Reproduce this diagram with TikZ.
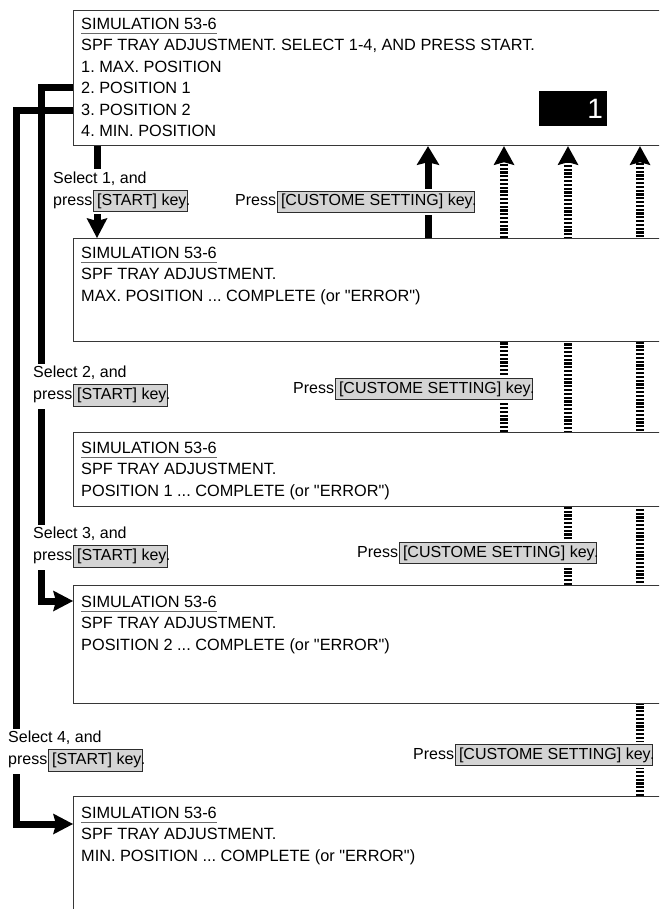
\documentclass[tikz,border=0pt]{standalone}
\usepackage{fontspec}
\setmainfont{Liberation Sans}[Ligatures=TeXOff]
\usetikzlibrary{arrows.meta}
\definecolor{ScrEdge}{RGB}{55,55,55}
\definecolor{KeyFill}{RGB}{212,212,212}
\definecolor{KeyEdge}{RGB}{45,45,45}
\definecolor{TitleLine}{RGB}{105,105,105}
\pgfdeclarelayer{back}
\pgfsetlayers{back,main}
\frenchspacing

% underlined screen heading
\newsavebox{\titlebox}
\newcommand{\scrtitle}[1]{\sbox{\titlebox}{#1}%
  \rlap{\textcolor{TitleLine}{\rule[-4.5pt]{\wd\titlebox}{1pt}}}\usebox{\titlebox}}
% grey key cap, full stop sitting on its edge
\newcommand{\keycap}[1]{\kern1pt{\setlength{\fboxsep}{3pt}\setlength{\fboxrule}{0.9pt}%
  \fcolorbox{KeyEdge}{KeyFill}{#1\kern-2pt}}\kern-2.5pt.}

\begin{document}
\begin{tikzpicture}[x=1pt, y=-1pt,
    screen/.style={draw=ScrEdge, line width=1.2pt, fill=white, anchor=north west,
                   minimum width=640pt, inner sep=0pt},
    scrtext/.style={anchor=north west, align=left, inner sep=0pt,
                    font=\fontsize{16.3pt}{21.5pt}\selectfont},
    lbl/.style={fill=white, inner sep=2pt, align=left,
                font=\fontsize{16pt}{22pt}\selectfont},
    counter/.style={fill=black, text=white, minimum width=68pt, minimum height=35pt,
                    text width=60pt, align=right, inner sep=4pt,
                    font=\fontsize{28pt}{28pt}\selectfont},
    flow/.style={line width=7pt,
                 -{Stealth[length=20pt, width=21pt, inset=3pt, line width=0pt]}},
    uparr/.style={line width=7pt,
                  -{Stealth[length=19pt, width=23pt, inset=3pt, line width=0pt]}},
    ladder/.style={line width=8pt, dash pattern=on 2.2pt off 1.6pt,
                   -{Stealth[length=19pt, width=21pt, inset=3pt, line width=0pt]}}
  ]
  \useasboundingbox (0,0) rectangle (659,909);
  \clip (0,0) rectangle (659,909);

  % screens
  \node[screen, minimum height=135pt] (s1) at (73,10)  {};
  \node[screen, minimum height=103pt] (s2) at (73,238) {};
  \node[screen, minimum height=74pt]  (s3) at (73,432) {};
  \node[screen, minimum height=118pt] (s4) at (73,585) {};
  \node[screen, minimum height=150pt] (s5) at (73,796) {};

  \node[scrtext] (t1) at (81,17.5) {\scrtitle{SIMULATION 53-6}\\
    SPF TRAY ADJUSTMENT. SELECT 1-4, AND PRESS START.\\
    1. MAX. POSITION\\2. POSITION 1\\3. POSITION 2\\4. MIN. POSITION};
  \node[counter] (cnt) at (573,108.5) {1};

  \node[scrtext] (t2) at (81,246.5) {\scrtitle{SIMULATION 53-6}\\
    SPF TRAY ADJUSTMENT.\\MAX. POSITION ... COMPLETE (or "ERROR")};
  \node[scrtext] (t3) at (81,441.5) {\scrtitle{SIMULATION 53-6}\\
    SPF TRAY ADJUSTMENT.\\POSITION 1 ... COMPLETE (or "ERROR")};
  \node[scrtext] (t4) at (81,595.5) {\scrtitle{SIMULATION 53-6}\\
    SPF TRAY ADJUSTMENT.\\POSITION 2 ... COMPLETE (or "ERROR")};
  \node[scrtext] (t5) at (81,806.5) {\scrtitle{SIMULATION 53-6}\\
    SPF TRAY ADJUSTMENT.\\MIN. POSITION ... COMPLETE (or "ERROR")};

  % selections and returns, behind the screens and labels
  \begin{pgfonlayer}{back}
    \fill[white] (0,0) rectangle (659,909);
    \draw[flow] (s1.south -| 97,0) -- (s2.north -| 97,0);
    \draw[flow] (s1.west |- 0,88) -| (41.5,601) -- (s4.west |- 0,601);
    \draw[flow] (s1.west |- 0,110.5) -| (16.5,824) -- (s5.west |- 0,824);
    \draw[uparr] (s2.north -| 428,0) -- (s1.south -| 428,0);
    \foreach \x/\s in {504/s3, 568/s4, 640/s5} {
      \draw[ladder] (\s.north -| \x,0) -- (s1.south -| \x,0);
    }
  \end{pgfonlayer}

  % key labels
  \node[lbl, anchor=north west] (sel1) at (51,169.3) {Select 1, and\\press\keycap{[START] key}};
  \node[lbl, anchor=north west] (sel2) at (31,364)   {Select 2, and\\press\keycap{[START] key}};
  \node[lbl, anchor=north west] (sel3) at (31,525)   {Select 3, and\\press\keycap{[START] key}};
  \node[lbl, anchor=north west] (sel4) at (6,729)    {Select 4, and\\press\keycap{[START] key}};

  \node[lbl, anchor=base west] (cs1) at (233,206) {Press\keycap{[CUSTOME SETTING] key}};
  \node[lbl, anchor=base west] (cs2) at (291,393) {Press\keycap{[CUSTOME SETTING] key}};
  \node[lbl, anchor=base west] (cs3) at (355,557) {Press\keycap{[CUSTOME SETTING] key}};
  \node[lbl, anchor=base west] (cs4) at (411,759) {Press\keycap{[CUSTOME SETTING] key}};
\end{tikzpicture}
\end{document}
